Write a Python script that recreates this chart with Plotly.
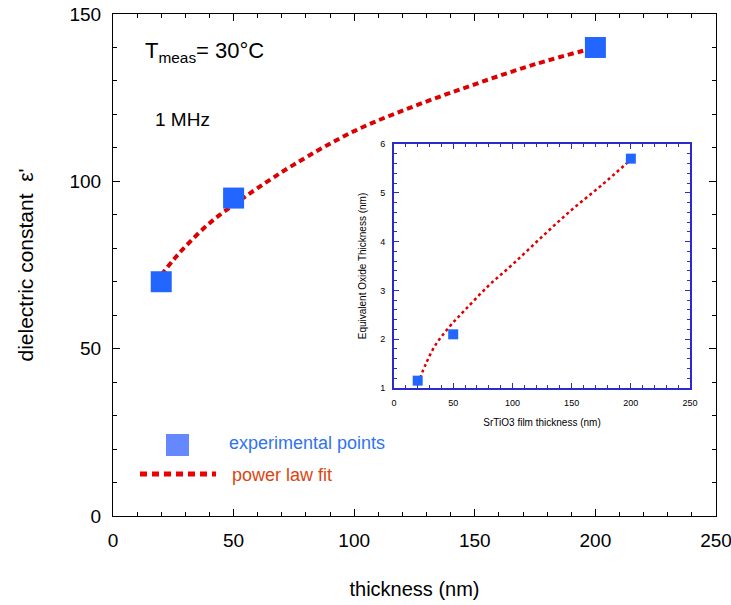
import plotly.graph_objects as go

# Main chart data
thickness = [20, 50, 200]
eps = [70, 95, 140]
fit_x = [20, 25, 30, 40, 50, 60, 75, 100, 125, 150, 175, 200]
fit_y = [72, 76.5, 80.5, 87.5, 93, 98, 105, 115, 122.5, 129, 135, 140]

# Inset data
eot_x = [20, 50, 200]
eot_y = [1.15, 2.1, 5.7]
eot_fit_x = [22, 27, 35, 47, 60, 80, 100, 125, 150, 175, 200]
eot_fit_y = [1.2, 1.5, 1.88, 2.26, 2.6, 3.1, 3.53, 4.1, 4.65, 5.15, 5.68]

FONT = "Liberation Sans, Arial, sans-serif"
INSET_BLUE = "#2b2bcc"

fig = go.Figure()
fig.add_trace(go.Scatter(x=fit_x, y=fit_y, mode="lines", line=dict(color="#dd0000", width=4, dash="6px,4px"),
                         line_shape="spline", showlegend=False, xaxis="x", yaxis="y"))
fig.add_trace(go.Scatter(x=thickness, y=eps, mode="markers",
                         marker=dict(symbol="square", size=21, color="#2266ff", line=dict(width=0)),
                         showlegend=False, xaxis="x", yaxis="y"))
fig.add_trace(go.Scatter(x=eot_fit_x, y=eot_fit_y, mode="lines", line=dict(color="#dd0000", width=2.5, dash="3px,3px"),
                         line_shape="spline", showlegend=False, xaxis="x2", yaxis="y2"))
fig.add_trace(go.Scatter(x=eot_x, y=eot_y, mode="markers",
                         marker=dict(symbol="square", size=10, color="#2266ff", line=dict(width=0)),
                         showlegend=False, xaxis="x2", yaxis="y2"))

main_axis = dict(showline=True, linecolor="black", linewidth=1, mirror="allticks", ticks="inside",
                 ticklen=7, tickcolor="black", showgrid=False, zeroline=False, automargin=False,
                 ticklabeloverflow="allow",
                 tickfont=dict(family=FONT, size=19, color="black"), ticklabelstandoff=7)
fig.update_layout(
    width=731, height=605, margin=dict(l=113, r=15, t=14, b=89),
    plot_bgcolor="white", paper_bgcolor="white",
    xaxis=dict(main_axis, range=[0, 250], dtick=50, domain=[0, 1],
               minor=dict(dtick=10, ticks="inside", ticklen=4, tickcolor="black"),
               title=dict(text="thickness (nm)", font=dict(family=FONT, size=20, color="black"), standoff=32)),
    yaxis=dict(main_axis, range=[0, 150], dtick=50, domain=[0, 1],
               minor=dict(dtick=10, ticks="inside", ticklen=4, tickcolor="black"),
               title=dict(text="dielectric constant  ε'", font=dict(family=FONT, size=21, color="black"), standoff=30)),
    xaxis2=dict(range=[0, 250], dtick=50, domain=[0.466, 0.957], anchor="y2", automargin=False,
                showline=True, linecolor=INSET_BLUE, linewidth=2, mirror="allticks", ticks="inside",
                ticklen=5, tickcolor=INSET_BLUE, showgrid=False, zeroline=False,
                minor=dict(dtick=10, ticks="inside", ticklen=3, tickcolor=INSET_BLUE),
                tickfont=dict(family=FONT, size=9, color="black"), ticklabelstandoff=5,
                title=dict(text="SrTiO3 film thickness (nm)", font=dict(family=FONT, size=10, color="black"), standoff=12)),
    yaxis2=dict(range=[1, 6], dtick=1, domain=[0.255, 0.741], anchor="x2", automargin=False,
                showline=True, linecolor=INSET_BLUE, linewidth=2, mirror="allticks", ticks="inside",
                ticklen=5, tickcolor=INSET_BLUE, showgrid=False, zeroline=False,
                minor=dict(dtick=0.2, ticks="inside", ticklen=3, tickcolor=INSET_BLUE),
                tickfont=dict(family=FONT, size=9, color="black"), ticklabelstandoff=5,
                title=dict(text="Equivalent Oxide Thickness (nm)", font=dict(family=FONT, size=10, color="black"), standoff=12)),
)

# Annotations
fig.add_annotation(xref="paper", yref="paper", x=(143 - 113) / 603, y=(516 - 52) / 502, xanchor="left", yanchor="middle",
                   text="T<sub>meas</sub>= 30°C", showarrow=False, font=dict(family=FONT, size=22, color="black"))
fig.add_annotation(xref="paper", yref="paper", x=(153 - 113) / 603, y=(516 - 119) / 502, xanchor="left", yanchor="middle",
                   text="1 MHz", showarrow=False, font=dict(family=FONT, size=19, color="black"))

# Manual legend
fig.add_shape(type="rect", xref="paper", yref="paper",
              x0=(166 - 113) / 603, x1=(189 - 113) / 603, y0=(516 - 456) / 502, y1=(516 - 434) / 502,
              fillcolor="#6688ff", line=dict(width=0))
fig.add_shape(type="line", xref="paper", yref="paper",
              x0=(140 - 113) / 603, x1=(216 - 113) / 603, y0=(516 - 474) / 502, y1=(516 - 474) / 502,
              line=dict(color="#ee0000", width=5, dash="7px,5px"))
fig.add_annotation(xref="paper", yref="paper", x=(227 - 113) / 603, y=(516 - 443) / 502, xanchor="left", yanchor="middle",
                   text="experimental points", showarrow=False, font=dict(family=FONT, size=18, color="#2f74ee"))
fig.add_annotation(xref="paper", yref="paper", x=(230 - 113) / 603, y=(516 - 475) / 502, xanchor="left", yanchor="middle",
                   text="power law fit", showarrow=False, font=dict(family=FONT, size=18, color="#dd4411"))

fig.write_html("out.html")
